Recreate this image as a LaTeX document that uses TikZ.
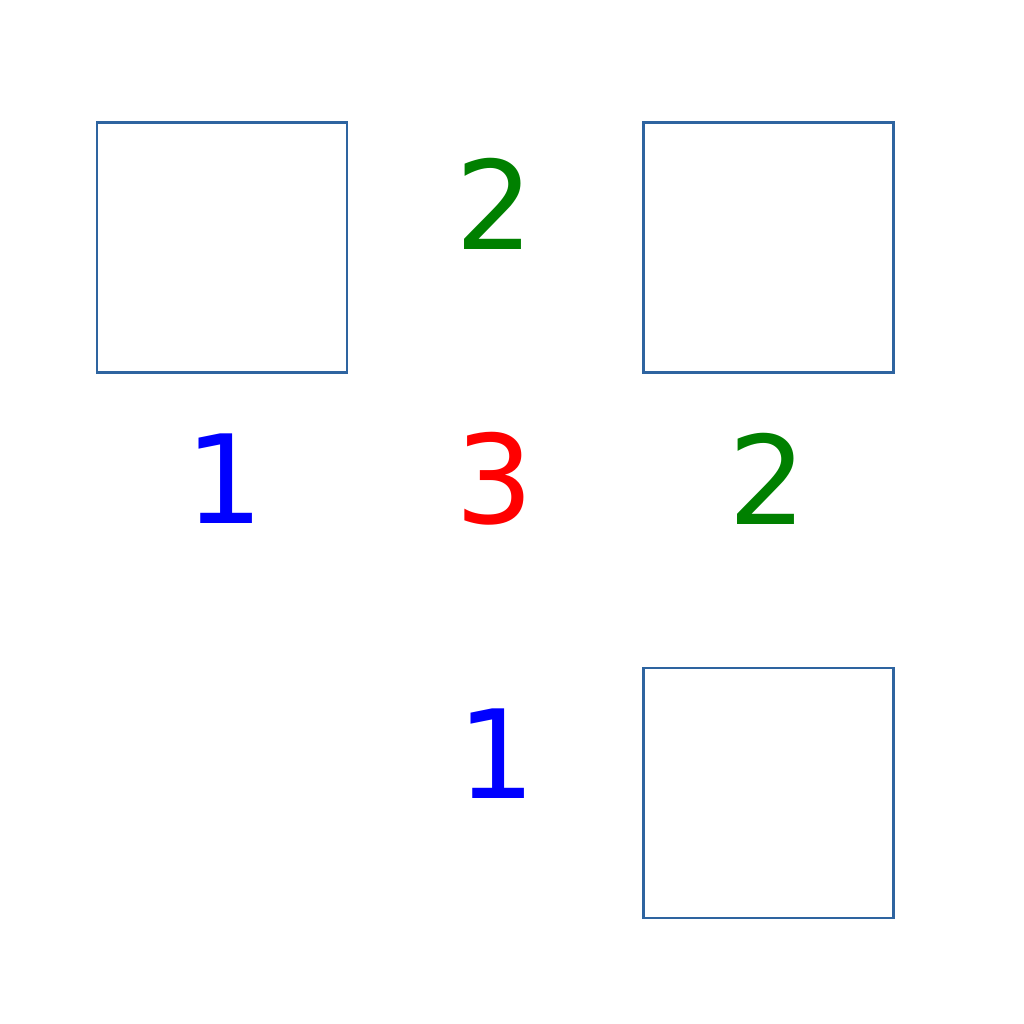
\documentclass[tikz,border=0pt]{standalone}
\usepackage{fontspec}
\setmainfont{DejaVu Sans}
\definecolor{boxcol}{RGB}{46,100,160}
\definecolor{numgreen}{RGB}{0,128,0}
\begin{document}
\begin{tikzpicture}
\tikzset{
  cell/.style={draw=boxcol, line width=0.85pt, minimum size=2.5cm, inner sep=0pt},
  num/.style={font=\fontsize{35}{40}\selectfont, inner sep=0pt, anchor=center}
}
\useasboundingbox (0,0) rectangle (10.24,10.24);
\node[cell] (sq1) at (2.22,7.765) {};
\node[cell] (sq2) at (7.685,7.765) {};
\node[cell] (sq3) at (7.685,2.31) {};
\node[num, text=numgreen] (t2) at (4.95,8.2) {2};
\node[num, text=blue] (m1) at (2.25,5.45) {1};
\node[num, text=red] (m3) at (4.95,5.45) {3};
\node[num, text=numgreen] (m2) at (7.68,5.45) {2};
\node[num, text=blue] (b1) at (4.97,2.7) {1};
\end{tikzpicture}
\end{document}
